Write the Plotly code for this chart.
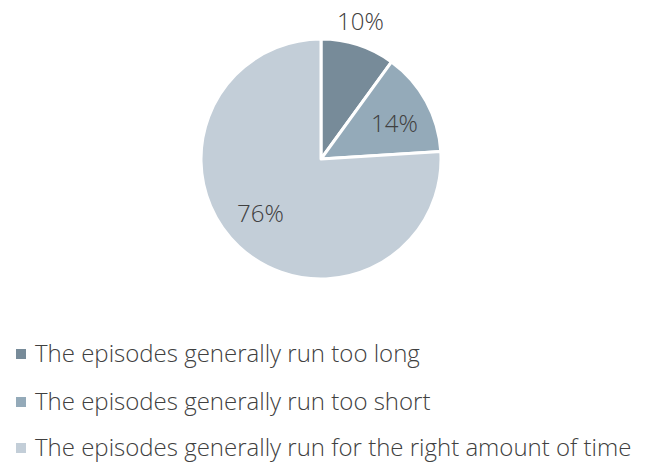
import plotly.graph_objects as go

# Survey answers about episode length
labels = [
    "The episodes generally run too long",
    "The episodes generally run too short",
    "The episodes generally run for the right amount of time",
]
values = [10, 14, 76]
colors = ["#778b99", "#94aab9", "#c3ced8"]

W, H = 655, 463
FONT = "Open Sans"
TEXT_COLOR = "#404040"
FONT_SPEC = dict(family=FONT, size=24, color=TEXT_COLOR, weight=300)

fig = go.Figure(
    go.Pie(
        labels=labels,
        values=values,
        sort=False,
        direction="clockwise",
        rotation=0,
        marker=dict(colors=colors, line=dict(color="white", width=3)),
        textinfo="none",
        domain=dict(x=[201 / W, 441 / W], y=[(H - 279) / H, (H - 39) / H]),
        showlegend=False,
        hoverinfo="label+percent",
    )
)

# Percentage labels for each slice
total = sum(values)
pct_pos = [(360, 20), (394, 122), (260, 212)]
for v, (px, py) in zip(values, pct_pos):
    fig.add_annotation(
        x=px / W, y=1 - py / H, xref="paper", yref="paper",
        text=f"{round(100 * v / total)}%", showarrow=False,
        xanchor="center", yanchor="middle", font=FONT_SPEC,
    )

# Legend drawn as swatches + labels beneath the pie
baselines = [362, 410, 456]
for lab, col, base in zip(labels, colors, baselines):
    sq = 1 - (base - 8) / H
    fig.add_shape(
        type="rect", xref="paper", yref="paper",
        x0=16 / W, x1=26 / W, y0=sq - 5 / H, y1=sq + 5 / H,
        fillcolor=col, line=dict(width=0),
    )
    fig.add_annotation(
        x=33 / W, y=1 - (base - 9.5) / H, xref="paper", yref="paper",
        text=lab, showarrow=False, xanchor="left", yanchor="middle",
        font=FONT_SPEC,
    )

fig.update_layout(
    width=W, height=H,
    margin=dict(l=0, r=0, t=0, b=0),
    paper_bgcolor="white",
    plot_bgcolor="white",
)

fig.write_html("out.html")
